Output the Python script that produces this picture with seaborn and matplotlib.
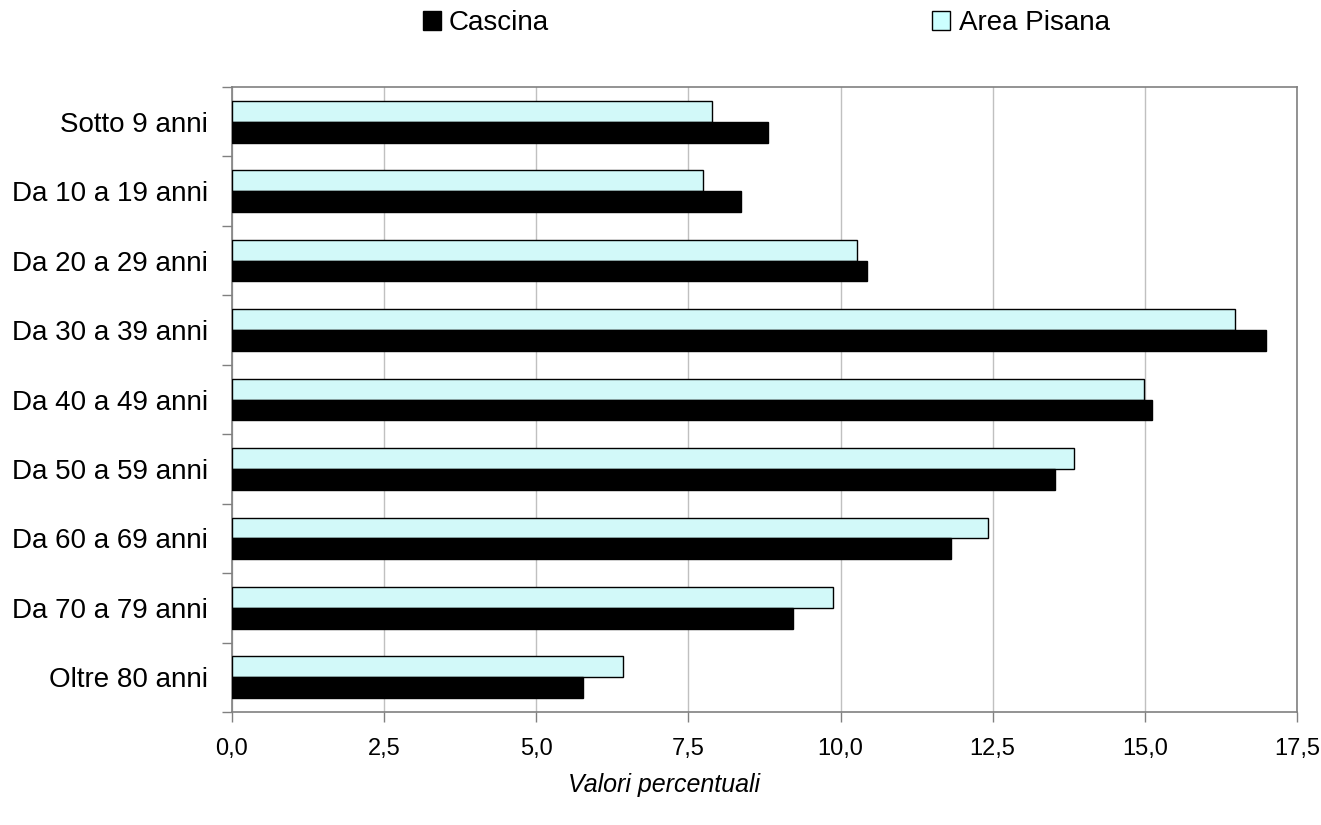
import numpy as np
import pandas as pd
import matplotlib
matplotlib.use("Agg")
import matplotlib.pyplot as plt
from matplotlib.patches import Patch
from matplotlib.ticker import FixedLocator, FuncFormatter
import seaborn as sns

fasce = ["Sotto 9 anni", "Da 10 a 19 anni", "Da 20 a 29 anni", "Da 30 a 39 anni",
         "Da 40 a 49 anni", "Da 50 a 59 anni", "Da 60 a 69 anni", "Da 70 a 79 anni",
         "Oltre 80 anni"]
cascina = [8.81, 8.37, 10.43, 16.99, 15.12, 13.52, 11.81, 9.22, 5.77]
area_pisana = [7.89, 7.74, 10.27, 16.48, 14.99, 13.84, 12.42, 9.88, 6.42]

df = pd.DataFrame({
    "fascia": fasce * 2,
    "valore": cascina + area_pisana,
    "area": ["Cascina"] * len(fasce) + ["Area Pisana"] * len(fasce),
})

sns.set_style("white")
plt.rcParams["font.family"] = ["Liberation Sans", "DejaVu Sans"]
plt.rcParams["text.color"] = "black"
plt.rcParams["xtick.color"] = "black"
plt.rcParams["ytick.color"] = "black"

colori = {"Cascina": "#000000", "Area Pisana": "#ccffff"}

fig = plt.figure(figsize=(13.21, 8.25), dpi=100)
ax = fig.add_axes([0.1756, 0.137, 0.8062, 0.7575])

sns.barplot(data=df, x="valore", y="fascia", hue="area", order=fasce,
            hue_order=["Area Pisana", "Cascina"], palette=colori,
            width=0.6, edgecolor="black", linewidth=1.0, errorbar=None,
            legend=False, ax=ax, zorder=3)

ax.set_xlim(0, 17.5)
ax.set_ylim(len(fasce) - 0.5, -0.5)
ax.xaxis.set_major_locator(FixedLocator(np.arange(0, 17.6, 2.5)))
ax.xaxis.set_major_formatter(FuncFormatter(lambda v, p: f"{v:.1f}".replace(".", ",")))
ax.grid(axis="x", color="#c0c0c0", linewidth=1.0, zorder=0)
ax.set_axisbelow(True)

# tacche tra le categorie
ax.yaxis.set_minor_locator(FixedLocator(np.arange(-0.5, len(fasce), 1.0)))
ax.tick_params(axis="y", which="both", left=True)
ax.tick_params(axis="x", which="both", bottom=True)
ax.tick_params(axis="y", which="major", length=0, pad=17, labelsize=20,
               labelcolor="black")
ax.tick_params(axis="y", which="minor", length=7, color="#808080", width=1)
ax.tick_params(axis="x", which="major", length=7, color="#808080", width=1,
               pad=11.5, labelsize=17, labelcolor="black")
ax.tick_params(axis="x", which="minor", length=0)

for s in ax.spines.values():
    s.set_visible(True)
    s.set_color("#808080")
    s.set_linewidth(1.2)

ax.set_xlabel("")
ax.set_ylabel("")
fig.text(0.503, 0.048, "Valori percentuali", ha="center", va="center",
         fontsize=18, style="italic", color="black")

maniglie = [Patch(facecolor=colori["Cascina"], edgecolor="black", linewidth=1),
            Patch(facecolor=colori["Area Pisana"], edgecolor="black", linewidth=1)]
fig.legend(maniglie, ["Cascina", "Area Pisana"], loc="center",
           bbox_to_anchor=(0.58, 0.972), ncol=2, frameon=False, fontsize=20,
           handlelength=0.65, handleheight=0.65, handletextpad=0.3,
           columnspacing=13.8)

fig.savefig("out.png", dpi=100)
